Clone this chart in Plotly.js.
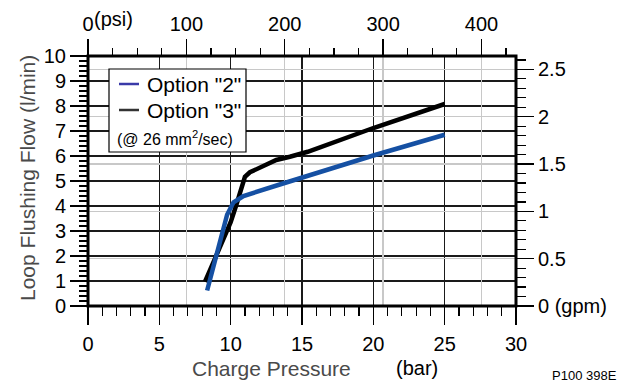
<!DOCTYPE html>
<html>
<head>
<meta charset="utf-8">
<script src="https://cdn.plot.ly/plotly-3.0.1.min.js"></script>
<style>html,body{margin:0;padding:0;background:#fff;}#chart{width:623px;height:383px;}</style>
</head>
<body>
<div id="chart"></div>
<script>
// Option "2" (blue) – charge pressure (bar) vs loop flushing flow (l/min)
var opt2Pressure = [8.35, 8.9, 9.4, 9.75, 10.2, 10.9, 13.5, 16, 20, 25];
var opt2Flow     = [0.62, 1.85, 2.95, 3.65, 4.15, 4.4, 4.87, 5.33, 6.02, 6.85];
// Option "3" (black)
var opt3Pressure = [8.2, 9.0, 9.5, 10.0, 10.4, 10.75, 11.0, 11.35, 11.9, 12.4, 13.2, 14.15, 15.4, 20, 25];
var opt3Flow     = [0.97, 1.98, 2.65, 3.35, 4.05, 4.8, 5.17, 5.35, 5.5, 5.64, 5.84, 5.97, 6.17, 7.12, 8.08];

var barTicks = [0, 5, 10, 15, 20, 25, 30];
var psiTicks = [0, 100, 200, 300, 400];
var psiTickText = ['0', '100', '200', '300', '400'];
var lpmTicks = [0, 1, 2, 3, 4, 5, 6, 7, 8, 9, 10];
var gpmTicks = [0, 0.5, 1, 1.5, 2, 2.5];
var gpmTickText = ['0 (gpm)', '0.5', '1', '1.5', '2', '2.5'];

var BAR_MAX = 30, LPM_MAX = 10;
var PSI_PER_BAR = 14.5038, LPM_PER_GPM = 3.78541;

var FONT = 'Liberation Sans, Arial, sans-serif';
var tickFont = {family: FONT, size: 20, color: '#000'};
var darkGrid = '#1a1a1a', lightGrid = '#c8c8c8';

var traces = [
  {x: opt3Pressure, y: opt3Flow, type: 'scatter', mode: 'lines', name: 'Option "3"',
   line: {color: '#000000', width: 4.5}, xaxis: 'x', yaxis: 'y', hoverinfo: 'skip'},
  {x: opt2Pressure, y: opt2Flow, type: 'scatter', mode: 'lines', name: 'Option "2"',
   line: {color: '#1550a3', width: 4.5}, xaxis: 'x', yaxis: 'y', hoverinfo: 'skip'},
  {x: [], y: [], type: 'scatter', mode: 'lines', xaxis: 'x2', yaxis: 'y2', showlegend: false, hoverinfo: 'skip'}
];

function px2x(p){ return (p - 88) / (516 - 88); }
function px2y(p){ return (306 - p) / (306 - 56); }

var layout = {
  width: 623, height: 383,
  margin: {l: 88, r: 107, t: 56, b: 77, pad: 0},
  paper_bgcolor: '#fff', plot_bgcolor: '#fff',
  showlegend: false,
  font: {family: FONT, color: '#000'},
  xaxis: {
    range: [0, BAR_MAX], tickvals: barTicks, ticks: 'outside', ticklen: 18, tickwidth: 1.5, tickcolor: '#000',
    showgrid: true, gridcolor: darkGrid, gridwidth: 1.5, zeroline: false, showline: false,
    tickfont: tickFont, ticklabelstandoff: 2,
    minor: {dtick: 1, ticks: 'outside', ticklen: 9, tickwidth: 1.2, tickcolor: '#000', showgrid: false}
  },
  yaxis: {
    range: [0, LPM_MAX], tickvals: lpmTicks, ticks: 'outside', ticklen: 17, tickwidth: 1.5, tickcolor: '#000',
    showgrid: true, gridcolor: darkGrid, gridwidth: 1.5, zeroline: false, showline: false,
    tickfont: tickFont,
    minor: {dtick: 0.2, ticks: 'outside', ticklen: 8, tickwidth: 1.2, tickcolor: '#000', showgrid: false}
  },
  xaxis2: {
    overlaying: 'x', side: 'top', anchor: 'y2', range: [0, BAR_MAX * PSI_PER_BAR],
    tickvals: psiTicks, ticktext: psiTickText, ticks: 'outside', ticklen: 16, tickwidth: 1.5, tickcolor: '#000',
    showgrid: true, gridcolor: lightGrid, gridwidth: 1.5, zeroline: false, showline: false,
    tickfont: tickFont,
    minor: {dtick: 25, ticks: 'outside', ticklen: 7, tickwidth: 1.2, tickcolor: '#000', showgrid: false}
  },
  yaxis2: {
    overlaying: 'y', side: 'right', anchor: 'x2', range: [0, LPM_MAX / LPM_PER_GPM],
    tickvals: gpmTicks, ticktext: gpmTickText, ticks: 'outside', ticklen: 17, tickwidth: 1.5, tickcolor: '#000',
    showgrid: true, gridcolor: lightGrid, gridwidth: 1.5, zeroline: false, showline: false,
    tickfont: tickFont,
    minor: {dtick: 0.1, ticks: 'outside', ticklen: 9, tickwidth: 1.2, tickcolor: '#000', showgrid: false}
  },
  shapes: [
    {type: 'rect', xref: 'paper', yref: 'paper', x0: 0, x1: 1, y0: 0, y1: 1,
     line: {color: '#000', width: 3}, layer: 'above'},
    // legend box
    {type: 'rect', xref: 'paper', yref: 'paper', x0: px2x(109), x1: px2x(246), y0: px2y(152), y1: px2y(69),
     line: {color: '#000', width: 1.2}, fillcolor: '#fff', layer: 'above'},
    {type: 'line', xref: 'paper', yref: 'paper', x0: px2x(119), x1: px2x(139), y0: px2y(84), y1: px2y(84),
     line: {color: '#3a3aa8', width: 2.5}, layer: 'above'},
    {type: 'line', xref: 'paper', yref: 'paper', x0: px2x(119), x1: px2x(139), y0: px2y(110), y1: px2y(110),
     line: {color: '#333', width: 2.5}, layer: 'above'}
  ],
  annotations: [
    {text: 'Option "2"', xref: 'paper', yref: 'paper', x: px2x(145), y: px2y(84), xanchor: 'left', yanchor: 'middle',
     showarrow: false, font: {family: FONT, size: 21, color: '#000'}},
    {text: 'Option "3"', xref: 'paper', yref: 'paper', x: px2x(145), y: px2y(110), xanchor: 'left', yanchor: 'middle',
     showarrow: false, font: {family: FONT, size: 21, color: '#000'}},
    {text: '(@ 26 mm<sup>2</sup>/sec)', xref: 'paper', yref: 'paper', x: px2x(115), y: px2y(138), xanchor: 'left', yanchor: 'middle',
     showarrow: false, font: {family: FONT, size: 16, color: '#000'}},
    {text: '(psi)', xref: 'paper', yref: 'paper', x: px2x(92), y: px2y(19), xanchor: 'left', yanchor: 'middle',
     showarrow: false, font: tickFont},
    {text: 'Charge Pressure', xref: 'paper', yref: 'paper', x: px2x(271), y: px2y(368), xanchor: 'center', yanchor: 'middle',
     showarrow: false, font: {family: FONT, size: 21, color: '#4a4a4a'}},
    {text: '(bar)', xref: 'paper', yref: 'paper', x: px2x(417), y: px2y(368), xanchor: 'center', yanchor: 'middle',
     showarrow: false, font: {family: FONT, size: 20, color: '#000'}},
    {text: 'Loop Flushing Flow (l/min)', xref: 'paper', yref: 'paper', x: px2x(27), y: px2y(178), xanchor: 'center', yanchor: 'middle',
     textangle: -90, showarrow: false, font: {family: FONT, size: 21, color: '#4a4a4a'}},
    {text: 'P100 398E', xref: 'paper', yref: 'paper', x: px2x(619), y: px2y(366), xanchor: 'right', yanchor: 'top',
     showarrow: false, font: {family: FONT, size: 13, color: '#000'}}
  ]
};

Plotly.newPlot('chart', traces, layout, {staticPlot: true, displayModeBar: false});
</script>
</body>
</html>
